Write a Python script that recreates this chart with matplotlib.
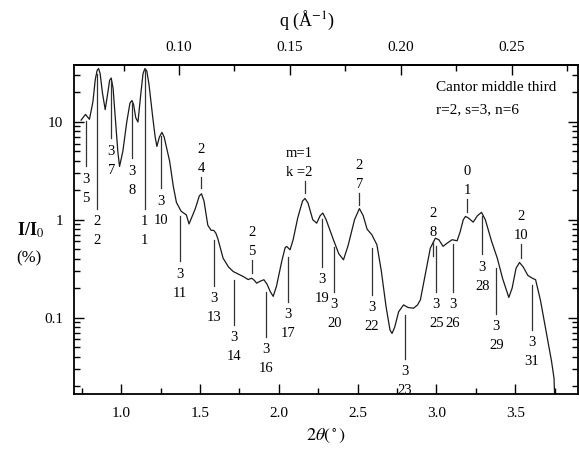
import matplotlib.pyplot as plt
from matplotlib.ticker import MultipleLocator, FixedLocator, LogLocator, NullFormatter, FormatStrFormatter

plt.rcParams['font.family'] = 'Liberation Serif'
plt.rcParams['mathtext.fontset'] = 'stix'

# scattering curve, 2theta (deg) and I/I0 (%)
two_theta = [0.745, 0.773, 0.798, 0.82, 0.835, 0.847, 0.856, 0.866, 0.88, 0.898,
             0.915, 0.926, 0.936, 0.948, 0.965, 0.978, 0.989, 1.01, 1.035, 1.055,
             1.067, 1.078, 1.092, 1.106, 1.122, 1.138, 1.150, 1.162, 1.176, 1.2,
             1.215, 1.226, 1.242, 1.258, 1.272, 1.307, 1.33, 1.35, 1.38, 1.413,
             1.43, 1.47, 1.495, 1.509, 1.525, 1.549, 1.57, 1.587, 1.6, 1.613,
             1.646, 1.68, 1.71, 1.774, 1.805, 1.827, 1.845, 1.859, 1.88, 1.905,
             1.925, 1.945, 1.964, 1.985, 2.018, 2.04, 2.05, 2.071, 2.09, 2.12,
             2.15, 2.166, 2.185, 2.215, 2.24, 2.262, 2.279, 2.3, 2.346, 2.38,
             2.41, 2.44, 2.48, 2.511, 2.535, 2.56, 2.59, 2.622, 2.65, 2.68,
             2.705, 2.718, 2.735, 2.76, 2.791, 2.82, 2.855, 2.88, 2.898, 2.93,
             2.961, 2.993, 3.015, 3.042, 3.07, 3.099, 3.131, 3.15, 3.17, 3.184,
             3.2, 3.233, 3.26, 3.286, 3.31, 3.35, 3.386, 3.42, 3.459, 3.48,
             3.505, 3.527, 3.55, 3.58, 3.608, 3.629, 3.66, 3.704, 3.73, 3.746,
             3.752]
intensity = [10.4, 11.9, 10.6, 16, 27, 33.5, 35, 31, 20, 13.3,
             20, 26.5, 28, 22, 9.5, 5, 3.5, 5, 10, 15.5,
             16.5, 15, 11, 9.95, 18, 31, 35, 33, 24, 11,
             7, 5.6, 7, 7.8, 7, 3.95, 2.2, 1.5, 1.22, 1.12,
             0.906, 1.3, 1.75, 1.84, 1.55, 0.88, 0.78, 0.778, 0.73, 0.64,
             0.405, 0.33, 0.296, 0.263, 0.245, 0.253, 0.24, 0.225, 0.235, 0.244,
             0.22, 0.185, 0.165, 0.21, 0.375, 0.52, 0.533, 0.494, 0.62, 1.05,
             1.55, 1.65, 1.48, 1.0, 0.923, 1.1, 1.17, 1.0, 0.625, 0.45,
             0.39, 0.55, 1.0, 1.3, 1.1, 0.8, 0.703, 0.555, 0.3, 0.13,
             0.075, 0.069, 0.08, 0.115, 0.135, 0.127, 0.125, 0.135, 0.152, 0.28,
             0.513, 0.648, 0.625, 0.535, 0.58, 0.625, 0.61, 0.75, 1.0, 1.08,
             1.05, 0.945, 1.1, 1.19, 1.0, 0.6, 0.405, 0.25, 0.161, 0.2,
             0.32, 0.366, 0.33, 0.27, 0.253, 0.244, 0.15, 0.0615, 0.036, 0.024,
             0.012]

# peak indices (m, k) hung below the curve
low_x = [0.777, 0.847, 0.936, 1.070, 1.148, 1.250, 1.371, 1.587, 1.714, 1.918,
         2.058, 2.276, 2.351, 2.590, 2.798, 2.999, 3.103, 3.290, 3.379, 3.604]
low_m = ['3', '2', '3', '3', '1', '3', '3', '3', '3', '3',
         '3', '3', '3', '3', '3', '3', '3', '3', '3', '3']
low_k = ['5', '2', '7', '8', '1', '10', '11', '13', '14', '16',
         '17', '19', '20', '22', '23', '25', '26', '28', '29', '31']
low_top = [10.1, 30.6, 25.9, 16.2, 34.4, 7.11, 1.08, 0.614, 0.245, 0.185,
           0.412, 1.007, 0.521, 0.509, 0.1076, 0.533, 0.559, 1.08, 0.318, 0.218]
low_bot = [3.51, 1.30, 6.78, 4.23, 1.30, 2.09, 0.375, 0.213, 0.085, 0.0641,
           0.146, 0.333, 0.185, 0.172, 0.0382, 0.185, 0.185, 0.442, 0.110, 0.0755]

# peak indices (m, k) placed above the curve
high_x = [1.509, 1.831, 2.166, 2.511, 2.978, 3.195, 3.534]
high_m = ['2', '2', 'm=1', '2', '2', '0', '2']
high_k = ['4', '5', 'k =2', '7', '8', '1', '10']
high_top = [2.71, 0.384, 2.46, 1.86, 0.600, 1.61, 0.559]
high_bot = [2.09, 0.283, 1.86, 1.43, 0.431, 1.19, 0.402]

q_ticks = [0.10, 0.15, 0.20, 0.25]


def tt_to_q(x):
    return 0.1 + (x - 1.366) / 14.07


def q_to_tt(q):
    return 1.366 + (q - 0.1) * 14.07


fig = plt.figure(figsize=(5.79, 4.49), dpi=100)
ax = fig.add_axes([0.1278, 0.1218, 0.871, 0.7334])

ax.plot(two_theta, intensity, color='#1a1a1a', lw=0.9)

for x, m, k, y0, y1 in zip(low_x, low_m, low_k, low_top, low_bot):
    ax.plot([x, x], [y0, y1], color='#333333', lw=0.9)
    ax.annotate(m, (x, y1), xytext=(0, -13), textcoords='offset pixels',
                ha='center', va='center', fontsize=10.5)
    ax.annotate(k, (x, y1), xytext=(0, -32), textcoords='offset pixels',
                ha='center', va='center', fontsize=10.5)

for x, m, k, y0, y1 in zip(high_x, high_m, high_k, high_top, high_bot):
    ax.plot([x, x], [y0, y1], color='#333333', lw=0.9)
    dx = -6 if m.startswith('m') else 0
    ax.annotate(k, (x, y0), xytext=(dx, 9), textcoords='offset pixels',
                ha='center', va='center', fontsize=10.5)
    ax.annotate(m, (x, y0), xytext=(dx, 28), textcoords='offset pixels',
                ha='center', va='center', fontsize=10.5)

ax.set_yscale('log')
ax.set_xlim(0.7, 3.9)
ax.set_ylim(0.0165, 38)

ax.xaxis.set_major_locator(MultipleLocator(0.5))
ax.xaxis.set_minor_locator(MultipleLocator(0.25))
ax.xaxis.set_major_formatter(FormatStrFormatter('%.1f'))
ax.yaxis.set_major_locator(FixedLocator([0.1, 1, 10]))
ax.yaxis.set_major_formatter(FormatStrFormatter('%g'))
ax.yaxis.set_minor_locator(LogLocator(base=10, subs=range(2, 10)))
ax.yaxis.set_minor_formatter(NullFormatter())

ax.tick_params(which='both', direction='in', labelsize=11, width=1, right=True)
ax.tick_params(which='major', length=7, pad=8)
ax.tick_params(which='minor', length=4)
ax.tick_params(axis='x', which='major', pad=9)
for s in ax.spines.values():
    s.set_linewidth(1.3)

top = ax.secondary_xaxis('top', functions=(tt_to_q, q_to_tt))
top.xaxis.set_major_locator(FixedLocator(q_ticks))
top.xaxis.set_minor_locator(MultipleLocator(0.025))
top.xaxis.set_major_formatter(FormatStrFormatter('%.2f'))
top.tick_params(which='both', direction='in', labelsize=11, width=1)
top.tick_params(which='major', length=7, pad=8)
top.tick_params(which='minor', length=4)
top.spines['top'].set_linewidth(1.3)

ax.text(0.718, 0.932, 'Cantor middle third', transform=ax.transAxes,
        ha='left', va='center', fontsize=11)
ax.text(0.718, 0.863, 'r=2, s=3, n=6', transform=ax.transAxes,
        ha='left', va='center', fontsize=11)

fig.text(0.052, 1 - 230 / 449, r'I/I$_0$', ha='center', va='center',
         fontsize=13, fontweight='bold')
fig.text(0.050, 1 - 258 / 449, '(%)', ha='center', va='center', fontsize=12)
fig.text(0.563, 1 - 436 / 449, r'$2\theta(^\circ)$', ha='center', va='center',
         fontsize=13)
fig.text(0.530, 1 - 20 / 449, r'q (Å$^{-1}$)', ha='center', va='center',
         fontsize=13)

fig.savefig('out.png', dpi=100)
